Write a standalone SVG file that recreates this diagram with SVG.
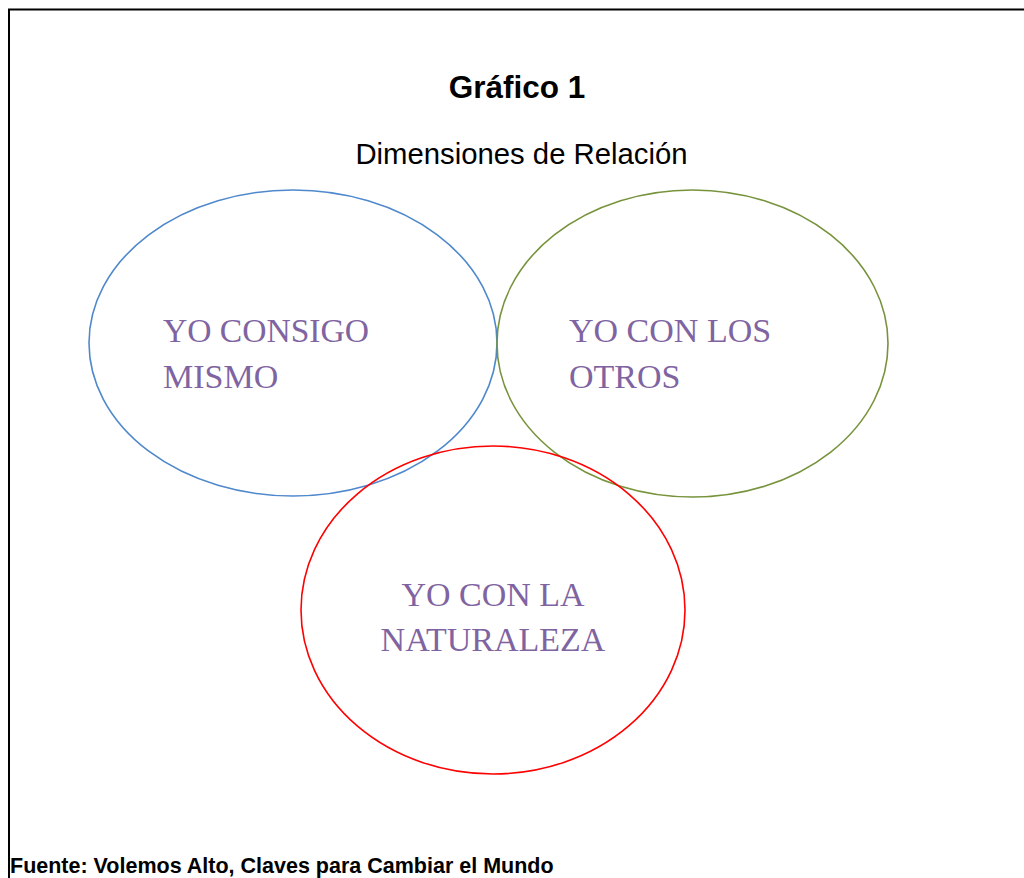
<svg xmlns="http://www.w3.org/2000/svg" width="1024" height="878" viewBox="0 0 1024 878">
<style>
.lbl{font-family:"Liberation Serif","DejaVu Serif",serif;font-size:34px;fill:#8064a2}
.circ{fill:none;stroke-width:1.6}
.sans{font-family:"Liberation Sans",Arial,sans-serif}
</style>
<rect width="1024" height="878" fill="#fff"/>
<path d="M9 878 V9.5 H1024" fill="none" stroke="#000" stroke-width="2"/>
<text class="sans" x="517" y="98" text-anchor="middle" font-weight="bold" font-size="31.5">Gráfico 1</text>
<text class="sans" x="521.5" y="164" text-anchor="middle" font-size="29.3">Dimensiones de Relación</text>
<g id="yo-consigo-mismo">
<ellipse class="circ" cx="293" cy="343" rx="204" ry="153" stroke="#4f88cc"/>
<text class="lbl" x="163" y="342" textLength="206" lengthAdjust="spacingAndGlyphs">YO CONSIGO</text>
<text class="lbl" x="163" y="388">MISMO</text>
</g>
<g id="yo-con-los-otros">
<ellipse class="circ" cx="692.5" cy="343.5" rx="195.5" ry="153.5" stroke="#77933c"/>
<text class="lbl" x="569" y="342">YO CON LOS</text>
<text class="lbl" x="569" y="388">OTROS</text>
</g>
<g id="yo-con-la-naturaleza">
<ellipse class="circ" cx="493" cy="610" rx="192" ry="164" stroke="#ff0000"/>
<text class="lbl" x="493" y="606" text-anchor="middle">YO CON LA</text>
<text class="lbl" x="493" y="651" text-anchor="middle">NATURALEZA</text>
</g>
<text class="sans" x="10" y="873" font-weight="bold" font-size="21.5">Fuente: Volemos Alto, Claves para Cambiar el Mundo</text>
</svg>
